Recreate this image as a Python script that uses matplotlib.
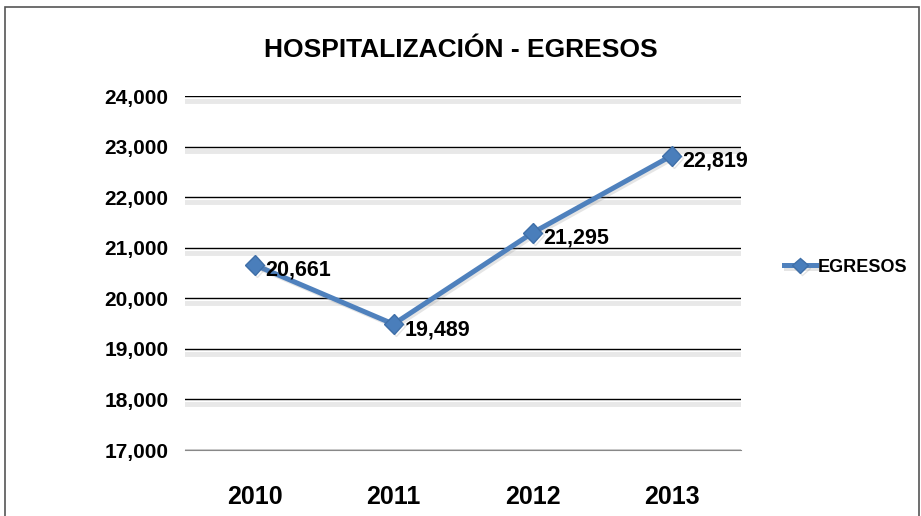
import numpy as np
import matplotlib.pyplot as plt
import matplotlib.patheffects as pe
from matplotlib.patches import Rectangle
from matplotlib.ticker import FuncFormatter

years = ["2010", "2011", "2012", "2013"]
egresos = [20661, 19489, 21295, 22819]
serie = "EGRESOS"
titulo = "HOSPITALIZACIÓN - EGRESOS"

plt.rcParams['font.family'] = ['Liberation Sans', 'DejaVu Sans']
plt.rcParams['font.weight'] = 'bold'

fig = plt.figure(figsize=(9.21, 5.16), dpi=100)
ax = fig.add_axes([0.2009, 0.1279, 0.6037, 0.686])

x = np.arange(len(years))
line, = ax.plot(x, egresos, color='#4F81BD', linewidth=3.6, marker='D', markersize=10,
                markerfacecolor='#4A7EBB', markeredgecolor='#3F6FA8', label=serie, zorder=3)
line.set_path_effects([pe.SimpleLineShadow(offset=(1.5, -1.5), shadow_color='gray', alpha=0.2),
                       pe.Normal()])

for xi, v in zip(x, egresos):
    ax.annotate(f"{v:,}", (xi, v), xytext=(8, -4), textcoords='offset points',
                ha='left', va='center', fontsize=15.5, fontweight='bold')

ax.set_xlim(-0.5, 3.5)
ax.set_ylim(17000, 24000)
ax.set_yticks(np.arange(17000, 24001, 1000))
ax.yaxis.set_major_formatter(FuncFormatter(lambda v, p: f"{int(v):,}"))
ax.set_xticks(x)
ax.set_xticklabels(years, fontsize=18, fontweight='bold')
ax.tick_params(axis='y', labelsize=15, length=0, pad=12)
ax.tick_params(axis='x', length=0, pad=25)

ax.yaxis.grid(True, color='black', linewidth=1.0)
for gl in ax.get_ygridlines()[1:]:
    gl.set_path_effects([pe.SimpleLineShadow(offset=(0, -3.5), shadow_color='gray', alpha=0.18, linewidth=3.5),
                         pe.Normal()])
ax.set_axisbelow(True)
for s in ['top', 'right', 'left']:
    ax.spines[s].set_visible(False)
ax.spines['bottom'].set_color('#888888')

fig.text(0.5, 0.903, titulo, ha='center', va='center', fontsize=19, fontweight='bold')

fig.legend(handles=[line], loc='center left', bbox_to_anchor=(0.843, 0.482), frameon=False,
           fontsize=13, handlelength=1.8, handletextpad=0.1, borderaxespad=0, markerscale=0.8)

fig.patches.append(Rectangle((0.005, -0.1), 0.993, 1.086, transform=fig.transFigure,
                             fill=False, edgecolor='#555555', linewidth=1.2))

fig.savefig("out.png", dpi=100)
